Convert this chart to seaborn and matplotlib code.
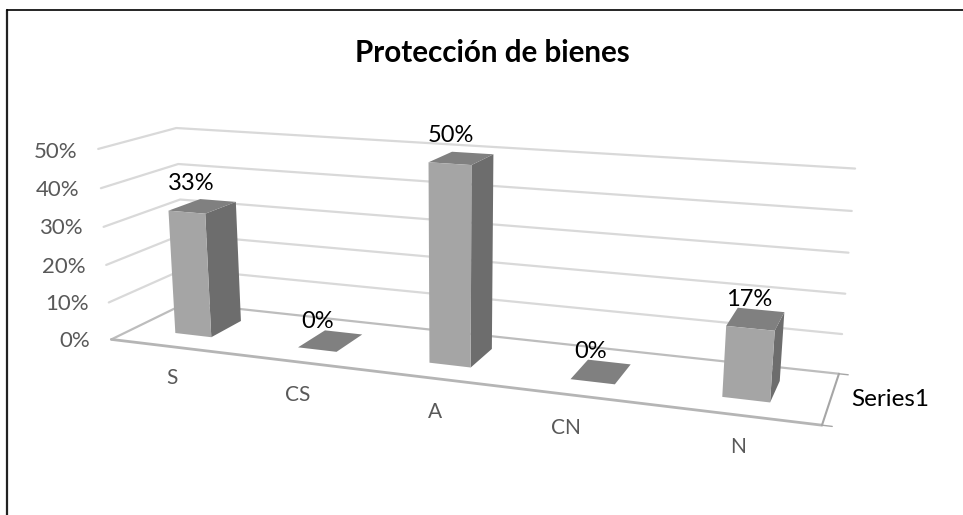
import numpy as np
import pandas as pd
import matplotlib
matplotlib.use("Agg")
import matplotlib.pyplot as plt
from matplotlib.transforms import Transform, IdentityTransform
from matplotlib.patches import Polygon
import seaborn as sns

# values
categories = ["S", "CS", "A", "CN", "N"]
values = [33, 0, 50, 0, 17]
y_ticks = [0, 10, 20, 30, 40, 50]
series_name = "Series1"
title = "Protección de bienes"

W, H = 963, 515

# box corners (category pos, percent, depth) -> picture pixels, used to fit the camera
box_pts = [(-0.5, 0, 0), (4.5, 0, 0), (-0.5, 50, 0), (-0.5, 0, 1),
           (4.5, 0, 1), (-0.5, 50, 1), (4.5, 50, 1)]
img_pts = [(112, 339.5), (822, 425), (97.5, 149), (185, 303),
           (839, 374), (177, 128), (855, 168.5)]


def fit_camera(world, image):
    rows, rhs = [], []
    for (x, y, z), (u, v) in zip(world, image):
        rows.append([x, y, z, 1, 0, 0, 0, 0, -u * x, -u * y, -u * z])
        rows.append([0, 0, 0, 0, x, y, z, 1, -v * x, -v * y, -v * z])
        rhs += [u, v]
    p = np.linalg.lstsq(np.array(rows, float), np.array(rhs, float), rcond=None)[0]
    return np.append(p, 1).reshape(3, 4)


CAM = fit_camera(box_pts, img_pts)


def project(x, y, z):
    pts = np.column_stack([x, y, z, np.ones(len(x))])
    q = pts @ CAM.T
    return q[:, :2] / q[:, 2:]


class PlaneTransform(Transform):
    """Data (category, percent) on the plane depth=z -> display pixels."""
    input_dims = 2
    output_dims = 2
    is_separable = False

    def __init__(self, z):
        super().__init__()
        self.z = z

    def transform_non_affine(self, values):
        values = np.asarray(values, float)
        uv = project(values[:, 0], values[:, 1], np.full(len(values), self.z))
        return np.column_stack([uv[:, 0], H - uv[:, 1]])

    def transform_affine(self):
        return IdentityTransform()


sns.set_theme(style="white")
plt.rcParams["font.family"] = ["Lato", "DejaVu Sans"]

fig = plt.figure(figsize=(W / 100, H / 100), dpi=100)
ax = fig.add_axes([0, 0, 1, 1])

df = pd.DataFrame({"cat": categories, "val": values})
BAR_W = 0.30
Z0, Z1 = 0.29, 0.72
FRONT, SIDE, TOP = "#a5a5a5", "#6d6d6d", "#808080"
GRID, FLOOR = "#d9d9d9", "#bdbdbd"

sns.barplot(data=df, x="cat", y="val", color=FRONT, saturation=1, width=BAR_W,
            ax=ax, zorder=5, linewidth=0)
ax.set_xlim(-0.5, 4.5)
ax.set_ylim(0, 50)
ax.axis("off")

front_plane = PlaneTransform(Z0)
for bar in ax.patches:
    bar.set_transform(front_plane)
    bar.set_clip_on(False)
    x0, x1 = bar.get_x(), bar.get_x() + bar.get_width()
    v = bar.get_height()
    # side and top faces from the same bar
    side = project([x1, x1, x1, x1], [0, v, v, 0], [Z0, Z0, Z1, Z1])
    top = project([x0, x1, x1, x0], [v, v, v, v], [Z0, Z0, Z1, Z1])
    if v > 0:
        ax.add_patch(Polygon(np.column_stack([side[:, 0], H - side[:, 1]]),
                             transform=None, fc=SIDE, lw=0, zorder=4, clip_on=False))
    ax.add_patch(Polygon(np.column_stack([top[:, 0], H - top[:, 1]]),
                         transform=None, fc=TOP, lw=0, zorder=4, clip_on=False))


def line3d(xs, ys, zs, **kw):
    uv = project(np.array(xs, float), np.array(ys, float), np.array(zs, float))
    ax.plot(uv[:, 0], H - uv[:, 1], transform=None, clip_on=False,
            solid_capstyle="round", **kw)


# walls and gridlines
for t in y_ticks:
    c = FLOOR if t == 0 else GRID
    line3d([-0.5, -0.5, 4.5], [t, t, t], [0, 1, 1], color=c, lw=1.6, zorder=1)
line3d([-0.5, 4.5], [0, 0], [0, 0], color="#b5b5b5", lw=2, zorder=1)
line3d([4.5, 4.5], [0, 0], [0, 1], color="#a6a6a6", lw=1.5, zorder=1)
# little tick marks at the series axis
line3d([4.5, 4.56], [0, 0], [0, 0], color="#a6a6a6", lw=1, zorder=1)
line3d([4.5, 4.56], [0, 0], [1, 1], color="#a6a6a6", lw=1, zorder=1)


def put(px, py, s, **kw):
    fig.text(px / W, 1 - py / H, s, ha="center", va="center", **kw)


# tick labels
y_label_pos = [(75, 341), (67, 304), (64, 267), (61, 228), (58, 190), (56, 152)]
for t, (px, py) in zip(y_ticks, y_label_pos):
    put(px, py, f"{t}%", color="#595959", fontsize=16)

cat_label_pos = [(172, 378), (298, 395), (435, 412), (566, 428), (738, 447)]
for c, (px, py) in zip(categories, cat_label_pos):
    put(px, py, c, color="#595959", fontsize=15)

# data labels
data_label_pos = [(191, 183), (318, 321), (451, 136), (591, 352), (749, 300)]
for v, (px, py) in zip(values, data_label_pos):
    put(px, py, f"{v}%", color="black", fontsize=17)

put(890, 400, series_name, color="black", fontsize=17.5)
put(492, 53, title, color="black", fontsize=21.3, fontweight="bold")

# outer frame, open on the right and bottom like the source crop
fig.add_artist(plt.Line2D([7 / W, 7 / W], [0, 1 - 9.5 / H], color="#222222", lw=1.6))
fig.add_artist(plt.Line2D([7 / W, 1], [1 - 9.5 / H, 1 - 9.5 / H], color="black", lw=1.2))

fig.savefig("out.png", dpi=100, facecolor="white")
